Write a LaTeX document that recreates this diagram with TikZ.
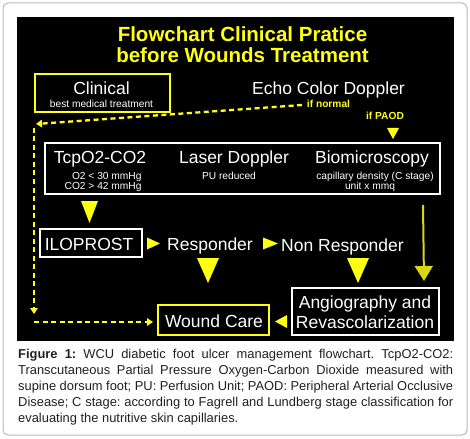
\documentclass[tikz,border=0pt]{standalone}
\usepackage{fontspec}
\setmainfont{Liberation Sans}
\usetikzlibrary{arrows.meta}
\definecolor{yel}{HTML}{FFFF10}
\definecolor{olivey}{HTML}{D8D810}
\definecolor{capt}{HTML}{231F20}
\frenchspacing
\begin{document}
\begin{tikzpicture}[x=1pt,y=-1pt,
  lbl/.style={font=\fontsize{17.5}{18}\selectfont, text=white, inner sep=0pt, anchor=base},
  sml/.style={font=\fontsize{10.2}{12}\selectfont, text=white, inner sep=0pt, anchor=base},
  ttl/.style={font=\fontsize{20.5}{21}\selectfont\bfseries, text=yel, inner sep=0pt, anchor=base},
  cond/.style={font=\fontsize{10.2}{12}\selectfont\bfseries, text=yel, inner sep=0pt, anchor=base},
  wbox/.style={draw=white, line width=1.2pt, inner sep=0pt},
  ybox/.style={draw=yel, line width=1.4pt, inner sep=0pt},
  tri/.style={fill=yel},
  dashln/.style={draw=yel, line width=2.3pt, dash pattern=on 5pt off 3.5pt, -{Triangle[length=6pt,width=7.5pt]}}
]
\useasboundingbox (0,0) rectangle (470,438);
% outer frame and black panel
\draw[draw=gray!55, line width=1pt, rounded corners=5pt] (3,3) rectangle (467,435);
\fill[black] (17,17) rectangle (454,341);
% title
\node[ttl] (t1) at (242.5,41.7) {Flowchart Clinical Pratice};
\node[ttl] (t2) at (242.5,62.7) {before Wounds Treatment};
% clinical box
\node[ybox, minimum width=135pt, minimum height=38pt] (clinbox) at (102.5,93) {};
\node[lbl] (clin) at (101.5,95) {Clinical};
\node[sml] (bmt) at (101.5,107.8) {best medical treatment};
% echo
\node[lbl] (echo) at (328.5,95) {Echo Color Doppler};
\node[cond] (ifn) at (328.5,107.5) {if normal};
\node[cond] (ifp) at (385,120) {if PAOD};
% big box
\node[wbox, minimum width=395pt, minimum height=51pt] (big) at (242.5,168.5) {};
\node[lbl] (tcp) at (100,163.3) {TcpO2-CO2};
\node[sml, anchor=base east] (o2) at (141.7,179.3) {O2 < 30 mmHg};
\node[sml, anchor=base east] (co2) at (141.7,189.3) {CO2 > 42 mmHg};
\node[lbl] (laser) at (234,163.3) {Laser Doppler};
\node[sml] (pu) at (229,179.3) {PU reduced};
\node[lbl] (bio) at (372,163.3) {Biomicroscopy};
\node[sml] (cap) at (375,179.3) {capillary density (C stage)};
\node[sml] (unit) at (370,189.3) {unit x mmq};
% row 2
\node[wbox, minimum width=102pt, minimum height=28pt] (ilobox) at (91,243) {};
\node[lbl] (ilo) at (89,250) {ILOPROST};
\node[lbl] (resp) at (210,250) {Responder};
\node[lbl] (nonresp) at (342.5,251) {Non Responder};
% bottom
\node[ybox, line width=2pt, minimum width=111pt, minimum height=30pt] (wcbox) at (213.5,320) {};
\node[lbl] (wc) at (214,327.5) {Wound Care};
\node[wbox, minimum width=147pt, minimum height=47pt] (angbox) at (365.5,311.5) {};
\node[lbl] (ang1) at (365,308) {Angiography and};
\node[lbl] (ang2) at (365,328) {Revascolarization};
% triangles
\fill[tri] (387,128) -- (399,128) -- (393,139) -- cycle;
\fill[tri] (81,201) -- (98,201) -- (89.5,223) -- cycle;
\fill[tri] (147,237.5) -- (160,243.5) -- (147,249.5) -- cycle;
\fill[tri] (263,237.5) -- (278,243.5) -- (263,249.5) -- cycle;
\fill[tri] (197,258) -- (219,258) -- (208,283) -- cycle;
\fill[tri] (347,258) -- (369,258) -- (358,283) -- cycle;
\fill[tri] (287,315) -- (275,321.5) -- (287,328) -- cycle;
% long arrow
\coordinate (la1) at (423,205);
\coordinate (la2) at (424,281);
\draw[olivey, line width=2pt, -{Triangle[length=15pt,width=18pt]}] (la1) -- (la2);
% dashed paths
\coordinate (d0) at (302,105);
\coordinate (d1) at (36,124);
\coordinate (d2) at (34,128);
\coordinate (d3) at (34,314);
\coordinate (d4) at (34,322);
\coordinate (d5) at (153,322);
\draw[dashln] (d0) -- (d1);
\draw[dashln] (d2) -- (d3);
\draw[dashln] (d4) -- (d5);
% caption
\node[anchor=north west, inner sep=0pt, text width=435pt, align=justify, text=capt,
  font=\fontsize{12.9}{15.9}\selectfont] (capt) at (18,349)
  {\textbf{Figure 1:} WCU diabetic foot ulcer management flowchart. TcpO2-CO2:\linebreak
  Transcutaneous Partial Pressure Oxygen-Carbon Dioxide measured with\linebreak
  supine dorsum foot; PU: Perfusion Unit; PAOD: Peripheral Arterial Occlusive\linebreak
  Disease; C stage: according to Fagrell and Lundberg stage classification for\linebreak
  evaluating the nutritive skin capillaries.};
\end{tikzpicture}
\end{document}
